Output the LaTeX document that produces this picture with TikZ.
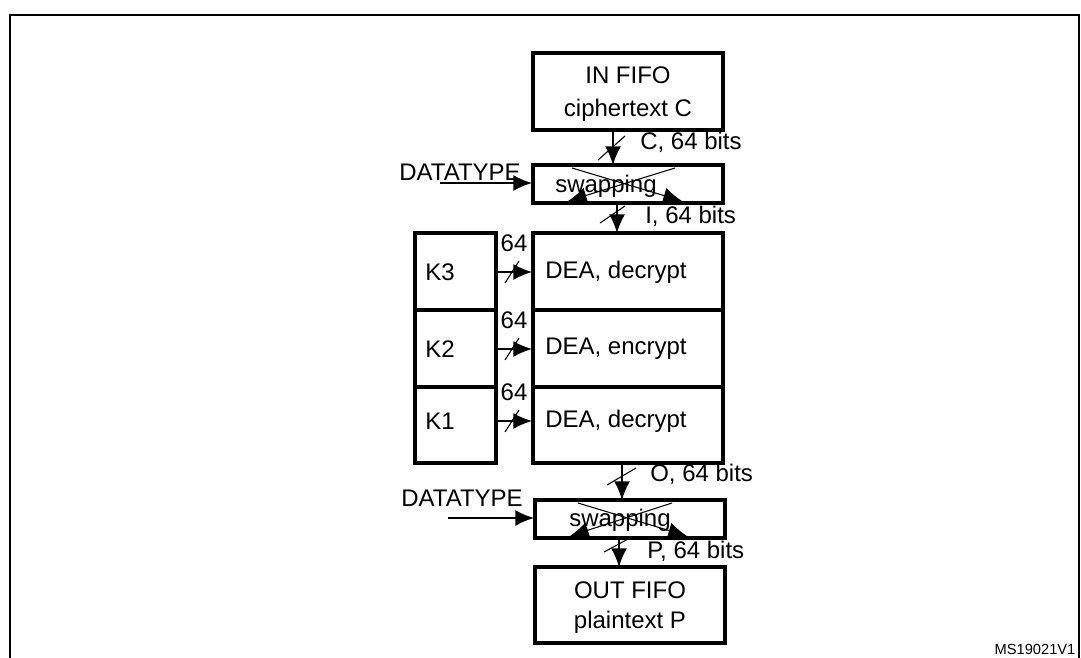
\documentclass[tikz,border=0pt]{standalone}
\usepackage{fontspec}
\setmainfont{Liberation Sans}
\usetikzlibrary{arrows.meta}
\begin{document}
\begin{tikzpicture}[x=0.75pt,y=-0.75pt,
  box/.style={draw,line width=3pt,inner sep=0pt},
  lbl/.style={font=\fontsize{18}{20}\selectfont,inner sep=0pt},
  sl/.style={line width=0.8pt},
  tip/.style={-{Latex[length=14pt,width=12pt]}},
  arr/.style={line width=1.3pt,tip}]
\useasboundingbox (0,0) rectangle (1081,657);
\draw[line width=1.5pt] (10,670) -- (10,15) -- (1079,15) -- (1079,670);
% boxes
\draw[box] (533,53) rectangle (723,130);
\node[lbl] (inf) at (628,75) {IN FIFO};
\node[lbl] (ct) at (628,110) {ciphertext C};
\coordinate (infb) at (613,130);
\draw[box] (533,165) rectangle (723,203);
\draw[box] (533,233) rectangle (723,463);
\draw[line width=2.5pt] (533,310) -- (723,310) (533,387) -- (723,387);
\draw[box] (415,233) rectangle (496,463);
\draw[line width=2.5pt] (415,310) -- (496,310) (415,387) -- (496,387);
\draw[box] (535,500) rectangle (725,538);
\draw[box] (535,567) rectangle (725,643);
\node[lbl] (of) at (630,590) {OUT FIFO};
\node[lbl] (pt) at (630,622) {plaintext P};
% texts
\node[lbl,anchor=west] (d3) at (545,272) {DEA, decrypt};
\node[lbl,anchor=west] (d2) at (545,349) {DEA, encrypt};
\node[lbl,anchor=west] (d1) at (545,421) {DEA, decrypt};
\node[lbl,anchor=west] (k3) at (425,272) {K3};
\node[lbl,anchor=west] (k2) at (425,349) {K2};
\node[lbl,anchor=west] (k1) at (425,421) {K1};
\foreach \y/\n in {272/a,349/b,421/c}{
  \coordinate (ks\n) at (497,\y); \coordinate (ke\n) at (532,\y);
  \draw[arr] (ks\n) -- (ke\n);
  \draw[sl] (505,\y+11) -- (519,\y-11);
  \node[lbl] at (514,\y-29) {64};
}
% vertical arrows
\coordinate (s1t) at (613,165); \coordinate (s1b) at (617,203); \coordinate (dt) at (617,233);
\coordinate (db) at (622,463); \coordinate (s2t) at (622,500); \coordinate (s2b) at (619,538); \coordinate (ot) at (619,567);
\draw[arr] (infb) -- (s1t);
\draw[sl] (598,160) -- (625,136);
\node[lbl,anchor=west] at (640,142) {C, 64 bits};
\draw[arr] (s1b) -- (dt);
\draw[sl] (600,223) -- (625,206);
\node[lbl,anchor=west] at (645,216) {I, 64 bits};
\draw[arr] (db) -- (s2t);
\draw[sl] (607,485) -- (636,468);
\node[lbl,anchor=west] at (650,474) {O, 64 bits};
\draw[arr] (s2b) -- (ot);
\draw[sl] (604,552) -- (628,539);
\node[lbl,anchor=west] at (647,551) {P, 64 bits};
% datatype
\node[lbl] at (460,172) {DATATYPE};
\coordinate (dta) at (440,183); \coordinate (dtb) at (532,183);
\draw[arr] (dta) -- (dtb);
\node[lbl] at (462,498) {DATATYPE};
\coordinate (dtc) at (448,518); \coordinate (dtd) at (534,518);
\draw[arr] (dtc) -- (dtd);
% swapping
\node[lbl] at (606,186) {swapping};
\draw[sl,tip] (572,168) -- (682,201);
\draw[sl,tip] (675,168) -- (568,201);
\node[lbl] at (620,520) {swapping};
\draw[sl,tip] (578,503) -- (687,536);
\draw[sl,tip] (672,503) -- (570,536);
\node[font=\fontsize{11}{12}\selectfont,inner sep=0pt] at (1035,649) {MS19021V1};
\end{tikzpicture}
\end{document}
